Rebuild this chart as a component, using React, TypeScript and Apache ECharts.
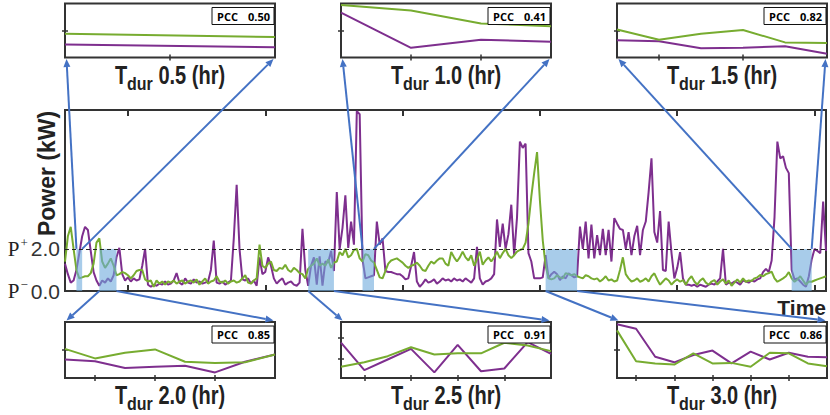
import React, { useEffect, useRef } from 'react';
import * as echarts from 'echarts';

// ---------- data (15-minute samples, kW) ----------
const purplePower = [
  1.3, 0.8, 0.4, 0.5, 1.0, 1.8, 2.6, 3.05, 2.9, 1.9,
  0.9, 0.5, 0.25, 0.5, 0.4, 0.6, 0.45, 0.75, 1.6, 2.05,
  0.8, 0.5, 0.65, 0.45, 0.6, 0.5, 0.55, 1.2, 2.0, 0.3,
  0.2, 0.3, 0.25, 0.35, 0.3, 0.45, 0.3, 0.35, 0.5, 0.85,
  0.4, 0.3, 0.6, 0.4, 0.35, 0.55, 0.4, 0.45, 0.35, 0.4,
  0.45, 1.0, 2.4, 0.4, 0.35, 0.45, 0.3, 0.4, 0.5, 2.5,
  5.05, 2.0, 0.55, 0.5, 0.6, 0.35, 0.5, 0.25, 1.6, 0.8,
  0.9, 1.6, 1.2, 0.6, 0.35, 0.5, 0.6, 0.3, 0.4, 0.45,
  0.3, 0.25, 0.4, 2.95, 1.0, 0.25, 1.2, 1.6, 0.3, 1.65,
  0.25, 1.4, 1.35, 1.9, 0.95, 4.7, 2.0, 3.0, 4.55, 2.05,
  3.3, 2.2, 8.55, 8.4, 1.5, 0.6, 0.65, 0.7, 0.75, 3.3,
  2.2, 2.5, 0.95, 0.9, 0.9, 0.85, 0.8, 0.8, 0.7, 0.55,
  0.6, 1.2, 1.85, 0.45, 0.2, 0.35, 0.55, 0.4, 0.45, 0.55,
  0.35, 0.45, 0.6, 0.5, 0.55, 0.45, 0.6, 0.5, 0.55, 0.45,
  0.6, 0.5, 0.4, 0.6, 2.1, 0.6, 0.3, 0.45, 0.5, 0.6,
  0.8, 3.4, 2.1, 3.2, 2.0, 2.7, 4.1, 1.7, 3.5, 7.1,
  6.8, 7.0, 1.8, 1.4, 0.6, 0.6, 0.6, 0.65, 1.7, 0.6,
  0.8, 0.92, 0.8, 0.52, 0.7, 0.6, 0.84, 0.75, 0.65, 0.7,
  3.06, 2.0, 3.3, 1.55, 3.15, 1.55, 2.65, 1.7, 2.95, 1.7,
  2.9, 1.4, 3.46, 3.2, 2.95, 2.9, 2.0, 2.8, 1.7, 2.6,
  3.1, 1.7, 2.9, 3.3, 4.7, 6.3, 2.8, 2.3, 3.8, 1.0,
  0.95, 3.3, 1.8, 0.6, 1.1, 1.85, 0.6, 0.3, 0.3, 0.25,
  0.3, 0.2, 0.3, 0.25, 0.2, 0.3, 0.35, 0.3, 0.45, 0.6,
  2.0, 0.3, 0.4, 0.35, 0.45, 0.4, 0.3, 0.5, 0.45, 0.4,
  0.5, 0.45, 0.55, 0.6, 0.9, 1.05, 0.9, 1.45, 3.5, 7.1,
  6.3, 6.4, 5.85, 5.6, 1.0, 0.55, 0.6, 0.45, 0.3, 0.2,
  0.7, 1.5, 2.0, 1.9, 1.8, 4.25, 1.9,
];

const greenPower = [
  1.4, 2.6, 3.05, 2.0, 1.0, 0.6, 0.65, 0.7, 0.7, 0.85,
  1.3, 2.3, 2.5, 1.4, 1.1, 1.3, 1.55, 1.2, 0.75, 0.8,
  0.9, 0.85, 0.75, 0.6, 0.75, 0.95, 1.0, 1.0, 0.55, 0.45,
  0.5, 0.2, 0.5, 0.35, 0.45, 0.3, 0.45, 0.4, 0.5, 0.35,
  0.45, 0.5, 0.35, 0.45, 0.5, 0.4, 0.55, 0.3, 0.45, 0.6,
  0.35, 0.45, 0.5, 0.7, 0.45, 0.4, 0.5, 0.35, 0.45, 0.5,
  0.4, 0.45, 0.6, 0.75, 0.4, 0.35, 0.5, 0.6, 2.2, 1.2,
  1.1, 1.3, 1.4, 1.0, 0.95, 1.1, 1.05, 1.25, 1.0, 0.9,
  1.1, 1.0, 0.85, 0.8, 0.6, 1.05, 1.2, 1.3, 1.55, 1.2,
  1.3, 1.2, 1.5, 1.1, 1.35, 1.4, 1.85, 1.7, 2.0, 1.6,
  1.7, 1.95, 2.0, 1.55, 1.4, 1.75, 1.7, 1.45, 1.35, 1.0,
  0.65, 0.6, 0.95, 1.3, 1.45, 1.5, 1.55, 1.45, 1.35, 1.2,
  1.1, 1.2, 1.25, 1.35, 1.2, 1.0, 0.95, 1.2, 1.4, 1.3,
  1.45, 1.55, 1.55, 1.3, 1.2, 1.85, 1.6, 1.4, 1.6, 1.87,
  1.6, 1.45, 1.7, 1.2, 1.5, 1.87, 1.25, 1.45, 1.6, 1.4,
  1.6, 1.87, 1.56, 1.8, 2.0, 1.7, 1.56, 1.7, 1.87, 1.95,
  2.0, 2.3, 3.2, 4.5, 5.6, 6.6, 4.3, 2.4, 1.2, 0.6,
  0.55, 0.6, 0.75, 0.65, 0.6, 0.85, 0.8, 0.75, 0.8, 0.7,
  0.65, 0.6, 0.75, 0.7, 0.6, 0.55, 0.6, 0.45, 0.55, 0.7,
  0.5, 0.55, 0.45, 0.5, 1.0, 1.6, 0.8, 0.6, 0.45, 0.5,
  0.6, 0.44, 0.5, 0.6, 0.45, 0.7, 0.84, 0.55, 0.3, 0.45,
  0.6, 0.5, 0.3, 0.45, 0.55, 0.44, 0.52, 0.3, 0.55, 0.7,
  0.45, 0.3, 0.5, 0.6, 0.4, 0.3, 0.45, 0.52, 0.3, 0.45,
  0.55, 0.35, 0.5, 0.25, 0.4, 0.55, 0.4, 0.6, 0.44, 0.5,
  0.48, 0.6, 0.65, 0.76, 0.7, 0.8, 0.85, 0.92, 0.6, 0.44,
  0.52, 0.6, 0.7, 0.9, 0.6, 0.44, 0.55, 0.7, 0.5, 0.3,
  0.45, 0.44, 0.5, 0.55, 0.6, 0.65, 0.7,
];

const timeTicks = [22, 70, 118, 166, 214, 262];
const powerLabelValues = [0, 2];
const powerLabelMarks = ['\u2212', '+'];
const powerMax = 8.6;
const threshold = 2;

const durations = ['0.5', '1.0', '1.5', '2.0', '2.5', '3.0'];
const pccValues = ['0.50', '0.41', '0.82', '0.85', '0.91', '0.86'];
const regionStarts = [4, 104, 254, 12, 85, 168];
const regionEnds = [6, 108, 261, 18, 94, 179];

// zoomed windows (normalised power)
const insetPurple05 = [0.24, 0.19];
const insetGreen05 = [0.44, 0.38];
const insetPurple10 = [0.83, 0.18, 0.33, 0.29];
const insetGreen10 = [0.97, 0.87, 0.63, 0.58];
const insetPurple15 = [0.32, 0.3, 0.17, 0.18, 0.21, 0.07];
const insetGreen15 = [0.52, 0.33, 0.44, 0.51, 0.28, 0.27];
const insetPurple20 = [0.33, 0.3, 0.18, 0.2, 0.22, 0.1, 0.29, 0.42];
const insetGreen20 = [0.52, 0.35, 0.45, 0.51, 0.29, 0.27, 0.28, 0.42];
const insetPurple25 = [0.63, 0.14, 0.33, 0.52, 0.1, 0.59, 0.12, 0.17, 0.64, 0.43];
const insetGreen25 = [0.2, 0.28, 0.39, 0.55, 0.42, 0.44, 0.44, 0.63, 0.58, 0.48];
const insetPurple30 = [0.96, 0.88, 0.38, 0.28, 0.41, 0.49, 0.26, 0.47, 0.33, 0.45, 0.38, 0.37];
const insetGreen30 = [0.85, 0.3, 0.26, 0.24, 0.44, 0.26, 0.27, 0.2, 0.45, 0.44, 0.26, 0.21];
const insetXTicks = [[0.5], [1, 2], [1, 3], [1, 3, 5], [1, 3, 5, 7], [1, 3, 5, 7, 9]];
const insetYTicks = [[0.5], [0.5], [0.5], [0.5], [0.35, 0.72], [0.5]];

const insetPurple = [insetPurple05, insetPurple10, insetPurple15, insetPurple20, insetPurple25, insetPurple30];
const insetGreen = [insetGreen05, insetGreen10, insetGreen15, insetGreen20, insetGreen25, insetGreen30];

// ---------- styles / layout ----------
const PURPLE = '#7E2F8E';
const GREEN = '#77AC30';
const BLUE = '#4472C4';
const FRAME = '#333333';
const REGION_FILL = 'rgba(110,170,220,0.6)';

const MAIN = { left: 65, top: 110, width: 761, height: 181 };
const PANELS = [
  { left: 65, top: 3.5, w: 210, h: 54 },
  { left: 341, top: 3.5, w: 210, h: 54 },
  { left: 617, top: 3.5, w: 210, h: 54 },
  { left: 65, top: 322, w: 210, h: 56 },
  { left: 341, top: 322, w: 210, h: 56 },
  { left: 617, top: 322, w: 210, h: 56 },
];
const TITLE_Y = [75, 75, 75, 395, 395, 395];

function measure(text: string, font: string): number {
  const c = document.createElement('canvas').getContext('2d');
  if (!c) return text.length * 10;
  c.font = font;
  return c.measureText(text).width;
}

function arrow(from: number[], to: number[]) {
  const dx = to[0] - from[0];
  const dy = to[1] - from[1];
  const len = Math.hypot(dx, dy) || 1;
  const ux = dx / len;
  const uy = dy / len;
  const hl = 8;
  const hw = 3.5;
  const bx = to[0] - ux * hl;
  const by = to[1] - uy * hl;
  return [
    {
      type: 'line', z: 100, silent: true,
      shape: { x1: from[0], y1: from[1], x2: bx, y2: by },
      style: { stroke: BLUE, lineWidth: 2 },
    },
    {
      type: 'polygon', z: 100, silent: true,
      shape: { points: [[to[0], to[1]], [bx - uy * hw, by + ux * hw], [bx + uy * hw, by - ux * hw]] },
      style: { fill: BLUE },
    },
  ];
}

function buildOption() {
  const grid: any[] = [{ ...MAIN, show: true, borderColor: FRAME, borderWidth: 2, backgroundColor: 'transparent' }];
  const xAxis: any[] = [];
  const yAxis: any[] = [];
  const series: any[] = [];

  const mainTick = { show: true, inside: true, length: 6, customValues: timeTicks, lineStyle: { color: FRAME, width: 2 } };
  ['bottom', 'top'].forEach((pos) => {
    xAxis.push({
      type: 'value', gridIndex: 0, position: pos, min: 0, max: purplePower.length - 1,
      axisLine: { show: false }, axisLabel: { show: false }, splitLine: { show: false }, axisTick: mainTick,
    });
  });
  yAxis.push({
    type: 'value', gridIndex: 0, min: 0, max: powerMax,
    axisLine: { show: false }, axisTick: { show: false }, splitLine: { show: false },
    axisLabel: {
      customValues: powerLabelValues,
      margin: 5,
      formatter: (v: number) => {
        const k = powerLabelValues.indexOf(v);
        return '{p|P}{sup|' + (k >= 0 ? powerLabelMarks[k] : '') + '}{n|' + v.toFixed(1) + '}';
      },
      rich: {
        p: { fontFamily: 'Liberation Serif', fontSize: 21, color: '#222', lineHeight: 26 },
        sup: { fontFamily: 'Liberation Serif', fontSize: 13, color: '#222', lineHeight: 13, verticalAlign: 'top', padding: [0, 3, 0, 1] },
        n: { fontFamily: 'Liberation Sans', fontSize: 21, color: '#333', lineHeight: 26 },
      },
    },
  });

  series.push({
    type: 'line', name: 'purple', xAxisIndex: 0, yAxisIndex: 0, z: 2,
    data: purplePower.map((v, i) => [i, v]), showSymbol: false, symbol: 'none',
    lineStyle: { color: PURPLE, width: 2 }, itemStyle: { color: PURPLE },
    markLine: {
      silent: true, symbol: 'none', label: { show: false }, animation: false,
      lineStyle: { color: '#222', width: 1, type: [4, 3] },
      data: [{ yAxis: threshold }],
    },
  });
  series.push({
    type: 'line', name: 'green', xAxisIndex: 0, yAxisIndex: 0, z: 2,
    data: greenPower.map((v, i) => [i, v]), showSymbol: false, symbol: 'none',
    lineStyle: { color: GREEN, width: 2 }, itemStyle: { color: GREEN },
  });
  series.push({
    type: 'custom', xAxisIndex: 0, yAxisIndex: 0, z: 4, silent: true,
    data: regionStarts.map((s, i) => [s, regionEnds[i], 0, threshold]),
    encode: { x: [0, 1], y: [2, 3] },
    renderItem: (params: any, api: any) => {
      const a = api.coord([api.value(0), api.value(3)]);
      const b = api.coord([api.value(1), api.value(2)]);
      return {
        type: 'rect',
        shape: { x: a[0], y: a[1], width: b[0] - a[0], height: b[1] - a[1] },
        style: { fill: REGION_FILL },
      };
    },
  });

  PANELS.forEach((p, i) => {
    const gi = i + 1;
    grid.push({ left: p.left, top: p.top, width: p.w, height: p.h, show: true, borderColor: FRAME, borderWidth: 2, backgroundColor: 'transparent' });
    const n = insetPurple[i].length;
    const xt = { show: true, inside: true, length: 3, customValues: insetXTicks[i], lineStyle: { color: FRAME, width: 1.5 } };
    const yt = { show: true, inside: true, length: 3, customValues: insetYTicks[i], lineStyle: { color: FRAME, width: 1.5 } };
    const xb = xAxis.length;
    ['bottom', 'top'].forEach((pos) => {
      xAxis.push({
        type: 'value', gridIndex: gi, position: pos, min: 0, max: n - 1,
        axisLine: { show: false }, axisLabel: { show: false }, splitLine: { show: false }, axisTick: xt,
      });
    });
    const yb = yAxis.length;
    ['left', 'right'].forEach((pos) => {
      yAxis.push({
        type: 'value', gridIndex: gi, position: pos, min: 0, max: 1,
        axisLine: { show: false }, axisLabel: { show: false }, splitLine: { show: false }, axisTick: yt,
      });
    });
    series.push({
      type: 'line', xAxisIndex: xb, yAxisIndex: yb, showSymbol: false, symbol: 'none',
      data: insetPurple[i].map((v, k) => [k, v]), lineStyle: { color: PURPLE, width: 2 },
    });
    series.push({
      type: 'line', xAxisIndex: xb, yAxisIndex: yb, showSymbol: false, symbol: 'none',
      data: insetGreen[i].map((v, k) => [k, v]), lineStyle: { color: GREEN, width: 2 },
    });
  });

  return { animation: false, backgroundColor: '#ffffff', grid, xAxis, yAxis, series };
}

function buildGraphics(chart: echarts.ECharts) {
  const els: any[] = [];
  const big = 'bold 20px "Liberation Sans"';
  const sub = 'bold 16px "Liberation Sans"';
  const pccFont = 'bold 11px "Open Sans"';

  PANELS.forEach((p, i) => {
    // title
    const rest = ' ' + durations[i] + ' (hr)';
    const wT = measure('T', big);
    const wD = measure('dur', sub);
    const wR = measure(rest, big);
    const cx = p.left + p.w / 2;
    const cy = TITLE_Y[i];
    const x0 = cx - (wT + wD + wR) / 2;
    els.push({ type: 'text', x: x0, y: cy, scaleY: 1.3, silent: true, style: { text: 'T', font: big, fill: '#222', align: 'left', verticalAlign: 'middle' } });
    els.push({ type: 'text', x: x0 + wT, y: cy + 9, scaleY: 1.1, silent: true, style: { text: 'dur', font: sub, fill: '#222', align: 'left', verticalAlign: 'middle' } });
    els.push({ type: 'text', x: x0 + wT + wD, y: cy, scaleY: 1.3, silent: true, style: { text: rest, font: big, fill: '#222', align: 'left', verticalAlign: 'middle' } });

    // PCC box
    const bx = p.left + p.w - 63;
    const by = p.top + 4;
    els.push({ type: 'rect', z: 50, silent: true, shape: { x: bx, y: by, width: 62, height: 17 }, style: { fill: '#fff', stroke: '#111', lineWidth: 1 } });
    els.push({ type: 'text', z: 51, x: bx + 5, y: by + 8.5, silent: true, style: { text: 'PCC', font: pccFont, fill: '#000', align: 'left', verticalAlign: 'middle' } });
    els.push({ type: 'text', z: 51, x: bx + 58, y: by + 8.5, silent: true, style: { text: pccValues[i], font: pccFont, fill: '#000', align: 'right', verticalAlign: 'middle' } });

    // connectors
    const isTop = i < 3;
    const yVal = isTop ? threshold : 0;
    const a = chart.convertToPixel({ xAxisIndex: 0, yAxisIndex: 0 }, [regionStarts[i], yVal]) as number[];
    const b = chart.convertToPixel({ xAxisIndex: 0, yAxisIndex: 0 }, [regionEnds[i], yVal]) as number[];
    const ty = isTop ? p.top + p.h + 1.5 : p.top - 1.5;
    els.push(...arrow(a, [p.left + 1.5, ty]));
    els.push(...arrow(b, [p.left + p.w - 1.5, ty]));
  });

  els.push({ type: 'text', x: 46.5, y: 173.5, rotation: Math.PI / 2, silent: true, style: { text: 'Power (kW)', font: 'bold 23px "Liberation Sans"', fill: '#222', align: 'center', verticalAlign: 'middle' } });
  els.push({ type: 'text', x: 826, y: 307, silent: true, style: { text: 'Time', font: 'bold 21px "Liberation Sans"', fill: '#222', align: 'right', verticalAlign: 'middle' } });
  return els;
}

export default function App() {
  const ref = useRef<HTMLDivElement>(null);
  useEffect(() => {
    if (!ref.current) return;
    const chart = echarts.init(ref.current, undefined, { renderer: 'svg', width: 830, height: 415 });
    chart.setOption(buildOption() as any);
    chart.setOption({ graphic: { elements: buildGraphics(chart) } } as any);
    return () => chart.dispose();
  }, []);
  return <div ref={ref} style={{ position: 'fixed', left: 0, top: 0, width: 830, height: 415, background: '#fff' }} />;
}
